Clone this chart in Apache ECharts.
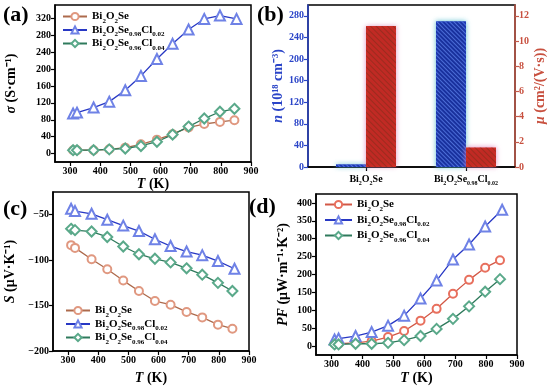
<!DOCTYPE html>
<html><head><meta charset="utf-8">
<script src="https://cdn.jsdelivr.net/npm/echarts@6/dist/echarts.min.js"></script>
<style>html,body{margin:0;padding:0;background:#fff}#c{width:550px;height:387px}</style>
</head><body><div id="c"></div>
<script>
// ---------- data ----------
const T_pristine = [310, 323, 378, 430, 483, 535, 588, 640, 693, 745, 797, 845];
const T_cl02     = [310, 323, 378, 430, 483, 535, 588, 640, 693, 745, 797, 852];
const T_cl04     = [310, 323, 378, 430, 483, 535, 588, 640, 693, 745, 797, 845];

const sigma_pristine = [8, 8, 8, 10, 14, 22, 33, 46, 62, 70, 75, 79];
const sigma_cl02     = [95, 97, 109, 123, 150, 184, 224, 260, 294, 319, 327, 319];
const sigma_cl04     = [8, 8, 8, 10, 12, 18, 28, 45, 64, 83, 99, 106];

const S_pristine = [-83.5, -86.5, -99, -110, -122.5, -134, -145, -149, -157, -163, -171, -175.5];
const S_cl02     = [-43.5, -46, -49, -55.5, -62, -68, -77, -84.5, -90.5, -94.5, -101, -109.5];
const S_cl04     = [-65.5, -67, -68.5, -74.5, -85, -93.5, -98.5, -102.5, -109, -116, -125, -134];

const PF_pristine = [6.5, 6.5, 9, 14, 25, 42, 71, 104, 146, 185, 219, 240];
const PF_cl02     = [18.5, 21, 28, 39, 57, 85, 133, 183, 242, 284, 334, 381];
const PF_cl04     = [4.5, 4.5, 6.5, 6.5, 9, 16.5, 28, 48, 76, 111, 152, 187];

const barCategories = ['Bi2O2Se', 'Bi2O2Se0.98Cl0.02'];
const barPositions  = [1, 2];
const n_values  = [5, 270];
const mu_values = [11.2, 1.55];

const tempTicks  = [300, 400, 500, 600, 700, 800, 900];
const sigmaTicks = [0, 40, 80, 120, 160, 200, 240, 280, 320];
const nTicks     = [0, 40, 80, 120, 160, 200, 240, 280];
const muTicks    = [0, 2, 4, 6, 8, 10, 12];
const STicks     = [-200, -150, -100, -50];
const PFTicks    = [0, 50, 100, 150, 200, 250, 300, 350, 400];

// ---------- styling ----------
const FONT = '"Liberation Serif", "Times New Roman", serif';
const richName = {
  'Bi2O2Se': '{n|Bi}{s|2}{n|O}{s|2}{n|Se}',
  'Bi2O2Se0.98Cl0.02': '{n|Bi}{s|2}{n|O}{s|2}{n|Se}{s|0.98}{n|Cl}{s|0.02}',
  'Bi2O2Se0.96Cl0.04': '{n|Bi}{s|2}{n|O}{s|2}{n|Se}{s|0.96}{n|Cl}{s|0.04}'
};
function richSub(main, sub, lh) {
  return {
    n: {fontFamily: FONT, fontWeight: 'bold', fontSize: main, lineHeight: lh, color: '#000'},
    s: {fontFamily: FONT, fontWeight: 'bold', fontSize: sub, lineHeight: sub, verticalAlign: 'bottom', color: '#000'}
  };
}
const pair = (xs, ys) => xs.map((x, i) => [x, ys[i]]);

const grids = [
  {left: 55, top: 5, width: 196, height: 157},
  {left: 308, top: 5, width: 207, height: 162},
  {left: 53, top: 192, width: 196, height: 159},
  {left: 316, top: 194, width: 201, height: 161}
].map(g => Object.assign(g, {show: true, borderColor: '#000', borderWidth: 1.5, containLabel: false}));

const labelStyle = {fontFamily: FONT, fontWeight: 'bold', fontSize: 10, color: '#000', margin: 4};
const nameStyle = (color) => ({
  fontFamily: FONT, fontWeight: 'bold', fontSize: 14, color: color || '#000',
  rich: {i: {fontFamily: FONT, fontWeight: 'bold', fontStyle: 'italic', fontSize: 14, color: color || '#000'}}
});

function tempAxis(gi, gap) {
  return {
    type: 'value', gridIndex: gi, min: 250, max: 900,
    axisLine: {show: true, onZero: false, lineStyle: {color: '#000', width: 1.5}},
    axisTick: {show: true, customValues: tempTicks, length: 4, lineStyle: {color: '#000', width: 1.2}},
    axisLabel: Object.assign({customValues: tempTicks}, labelStyle),
    splitLine: {show: false},
    name: '{i|T} (K)', nameLocation: 'middle', nameGap: gap, nameTextStyle: nameStyle()
  };
}
function valAxis(gi, min, max, ticks, name, gap, opts) {
  opts = opts || {};
  const col = opts.color || '#000';
  return {
    type: 'value', gridIndex: gi, min: min, max: max, position: opts.position || 'left',
    axisLine: {show: true, onZero: false, lineStyle: {color: opts.lineColor || '#000', width: 1.5}},
    axisTick: {show: true, customValues: ticks, length: 4, lineStyle: {color: opts.lineColor || '#000', width: 1.2}},
    axisLabel: Object.assign({customValues: ticks, formatter: v => String(v).replace('-', '\u2212')}, labelStyle, {color: col}),
    splitLine: {show: false},
    name: name, nameLocation: 'middle', nameGap: gap, nameRotate: 90, nameTextStyle: nameStyle(col)
  };
}

const COL = {
  orangeLine: '#ad6a4c', orangeMark: '#e09880',
  redLine: '#d25846', redMark: '#e8705e',
  blueLine: '#2838c4', blueMark: '#6f82e6',
  greenLine: '#2f7a5c', greenMark: '#5aa98a'
};
function lineSeries(name, xi, yi, data, lineColor, markColor, symbol, size) {
  return {
    type: 'line', name: name, xAxisIndex: xi, yAxisIndex: yi, data: data,
    symbol: symbol, symbolSize: size, showAllSymbol: true,
    lineStyle: {color: lineColor, width: 1.3},
    itemStyle: {color: markColor, borderColor: markColor, borderWidth: 1.1},
    emphasis: {disabled: true}, z: 3
  };
}
function legend(panel, left, top, gap, width) {
  return {
    left: left, top: top, orient: 'vertical', itemWidth: width, itemHeight: 9, itemGap: gap,
    selectedMode: false,
    data: ['Bi2O2Se', 'Bi2O2Se0.98Cl0.02', 'Bi2O2Se0.96Cl0.04'].map(k => panel + ':' + k),
    formatter: name => richName[name.split(':')[1]],
    textStyle: {fontFamily: FONT, fontWeight: 'bold', fontSize: 11, color: '#000', rich: richSub(11, 7, 16)}
  };
}

const option = {
  animation: false,
  backgroundColor: '#fff',
  grid: grids,
  xAxis: [
    tempAxis(0, 15),
    {
      type: 'value', gridIndex: 1, min: 0.42, max: 2.49,
      axisLine: {show: true, onZero: false, lineStyle: {color: '#000', width: 1.5}},
      axisTick: {show: true, customValues: barPositions, length: 4, lineStyle: {color: '#000', width: 1.2}},
      axisLabel: {customValues: barPositions, margin: 5,
        formatter: v => richName[barCategories[barPositions.indexOf(v)]] || '',
        rich: richSub(10, 6, 14)},
      splitLine: {show: false}
    },
    tempAxis(2, 20),
    tempAxis(3, 16)
  ],
  yAxis: [
    valAxis(0, -20, 352, sigmaTicks, '{i|σ} (S·cm⁻¹)', 37),
    valAxis(1, 0, 300, nTicks, '{i|n} (10¹⁸ cm⁻³)', 16, {color: '#2b45c8', lineColor: '#2b45c8'}),
    valAxis(1, 0, 12 * 300 / 280, muTicks, '{i|μ} (cm²/(V·s))', 17, {color: '#c8503f', lineColor: '#c45a4a', position: 'right'}),
    valAxis(2, -200, -25, STicks, '{i|S} (μV·K⁻¹)', 36),
    valAxis(3, -25, 425, PFTicks, '{i|PF} (μW·m⁻¹·K⁻²)', 26)
  ],
  legend: [
    legend('a', 57, 6, 0, 24),
    legend('c', 60, 300, 0, 24),
    legend('d', 319, 194, 2, 27)
  ],
  series: [
    lineSeries('a:Bi2O2Se', 0, 0, pair(T_pristine, sigma_pristine), COL.orangeLine, COL.orangeMark, 'emptyCircle', 8),
    lineSeries('a:Bi2O2Se0.98Cl0.02', 0, 0, pair(T_cl02, sigma_cl02), COL.blueLine, COL.blueMark, 'emptyTriangle', 10),
    lineSeries('a:Bi2O2Se0.96Cl0.04', 0, 0, pair(T_cl04, sigma_cl04), COL.greenLine, COL.greenMark, 'emptyDiamond', 10),
    {
      type: 'bar', name: 'n', xAxisIndex: 1, yAxisIndex: 1, barWidth: 30, barGap: '0%',
      data: pair(barPositions, n_values),
      itemStyle: {color: '#1f3dc4', shadowBlur: 5, shadowColor: 'rgba(110,235,255,0.8)',
        decal: {symbol: 'rect', symbolSize: 1, dashArrayX: [1, 0], dashArrayY: [1, 2], rotation: Math.PI / 4, color: 'rgba(110,150,255,0.6)'}},
      emphasis: {disabled: true}
    },
    {
      type: 'bar', name: 'mu', xAxisIndex: 1, yAxisIndex: 2, barWidth: 30, barGap: '0%',
      data: pair(barPositions, mu_values),
      itemStyle: {color: '#dc3029', shadowBlur: 5, shadowColor: 'rgba(255,150,215,0.8)',
        decal: {symbol: 'rect', symbolSize: 1, dashArrayX: [1, 0], dashArrayY: [1, 3], rotation: Math.PI / 4, color: 'rgba(120,45,25,0.5)'}},
      emphasis: {disabled: true}
    },
    lineSeries('c:Bi2O2Se', 2, 3, pair(T_pristine, S_pristine), COL.orangeLine, COL.orangeMark, 'emptyCircle', 8),
    lineSeries('c:Bi2O2Se0.98Cl0.02', 2, 3, pair(T_cl02, S_cl02), COL.blueLine, COL.blueMark, 'emptyTriangle', 10),
    lineSeries('c:Bi2O2Se0.96Cl0.04', 2, 3, pair(T_cl04, S_cl04), COL.greenLine, COL.greenMark, 'emptyDiamond', 10),
    lineSeries('d:Bi2O2Se', 3, 4, pair(T_pristine, PF_pristine), COL.redLine, COL.redMark, 'emptyCircle', 8),
    lineSeries('d:Bi2O2Se0.98Cl0.02', 3, 4, pair(T_cl02, PF_cl02), COL.blueLine, COL.blueMark, 'emptyTriangle', 10),
    lineSeries('d:Bi2O2Se0.96Cl0.04', 3, 4, pair(T_cl04, PF_cl04), COL.greenLine, COL.greenMark, 'emptyDiamond', 10)
  ],
  graphic: [
    {type: 'text', left: 3, top: 4, style: {text: '(a)', font: 'bold 22px ' + FONT, fill: '#000'}},
    {type: 'text', left: 257, top: 4, style: {text: '(b)', font: 'bold 22px ' + FONT, fill: '#000'}},
    {type: 'text', left: 3, top: 198, style: {text: '(c)', font: 'bold 22px ' + FONT, fill: '#000'}},
    {type: 'text', left: 249, top: 196, style: {text: '(d)', font: 'bold 22px ' + FONT, fill: '#000'}}
  ]
};
const chart = echarts.init(document.getElementById('c'), null, {renderer: 'canvas'});
chart.setOption(option);
</script>
</body></html>
